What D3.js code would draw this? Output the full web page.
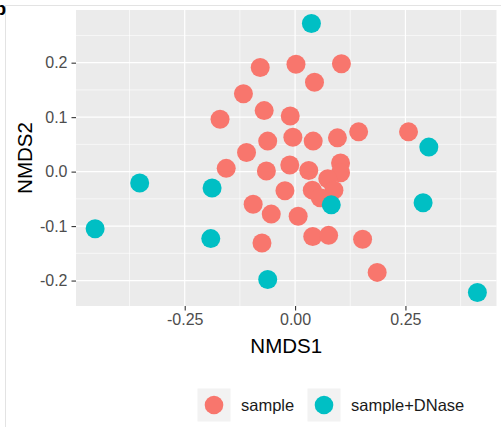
<!DOCTYPE html>
<html>
<head>
<meta charset="utf-8">
<script src="https://cdn.jsdelivr.net/npm/d3@7"></script>
<style>
  html, body { margin: 0; padding: 0; background: #fff; }
  svg { display: block; font-family: "Liberation Sans", Arial, Helvetica, sans-serif; }
</style>
</head>
<body>
<svg id="chart" width="501" height="427"></svg>
<script>
// NMDS ordination scores, one array per coordinate and group
const groups = ["sample", "sample+DNase"];
const groupColors = ["#F8766D", "#00BFC4"];

const sampleX = [-0.079, 0.002, 0.105, 0.044, -0.117, -0.070, -0.170, -0.011, -0.062, -0.110,
                  0.041, -0.005, 0.096, 0.144, 0.257, 0.103, 0.103, -0.012, 0.031, -0.156,
                 -0.065, 0.074, 0.088, 0.039, 0.057, -0.023, -0.095, -0.054, 0.007, -0.075,
                  0.040, 0.076, 0.153, 0.186];
const sampleY = [0.191, 0.197, 0.198, 0.164, 0.143, 0.112, 0.096, 0.102, 0.056, 0.035,
                 0.056, 0.063, 0.062, 0.073, 0.073, 0.016, -0.002, 0.012, 0.002, 0.006,
                 0.001, -0.013, -0.034, -0.034, -0.048, -0.035, -0.060, -0.078, -0.082, -0.131,
                -0.119, -0.117, -0.124, -0.185];

const dnaseX = [0.037, 0.303, -0.352, -0.188, 0.082, -0.453, 0.290, -0.191, -0.062, 0.413];
const dnaseY = [0.272, 0.045, -0.021, -0.030, -0.061, -0.105, -0.057, -0.123, -0.198, -0.222];

const xTicks = [-0.25, 0, 0.25];
const xMinor = [-0.375, -0.125, 0.125, 0.375];
const yTicks = [-0.2, -0.1, 0, 0.1, 0.2];
const yMinor = [-0.15, -0.05, 0.05, 0.15, 0.25];

const xTitle = "NMDS1";
const yTitle = "NMDS2";

// Layout of the plotting panel
const panel = { left: 76, top: 10, right: 496.5, bottom: 306 };

const svg = d3.select("#chart");

// Thin frame around the figure and the panel tag
svg.append("line").attr("x1", 5.5).attr("x2", 501).attr("y1", 5.5).attr("y2", 5.5)
  .attr("stroke", "#e3e3e3").attr("stroke-width", 1);
svg.append("line").attr("x1", 5.5).attr("x2", 5.5).attr("y1", 5.5).attr("y2", 427)
  .attr("stroke", "#e3e3e3").attr("stroke-width", 1);
svg.append("text").attr("x", 6).attr("y", 15).attr("text-anchor", "end")
  .attr("font-size", 19).attr("font-weight", "bold").attr("fill", "#000").text("b");

// Scales: data range expanded by 5% on each side
const allX = sampleX.concat(dnaseX), allY = sampleY.concat(dnaseY);
const xr = d3.extent(allX), yr = d3.extent(allY);
const xPad = (xr[1] - xr[0]) * 0.05, yPad = (yr[1] - yr[0]) * 0.05;
const x = d3.scaleLinear().domain([xr[0] - xPad, xr[1] + xPad]).range([panel.left, panel.right]);
const y = d3.scaleLinear().domain([yr[0] - yPad, yr[1] + yPad]).range([panel.bottom, panel.top]);

// Panel background
svg.append("rect")
  .attr("x", panel.left).attr("y", panel.top)
  .attr("width", panel.right - panel.left).attr("height", panel.bottom - panel.top)
  .attr("fill", "#EBEBEB");

const grid = svg.append("g");
grid.selectAll("line.xminor").data(xMinor).join("line")
  .attr("x1", d => x(d)).attr("x2", d => x(d))
  .attr("y1", panel.top).attr("y2", panel.bottom)
  .attr("stroke", "#fff").attr("stroke-width", 0.6);
grid.selectAll("line.yminor").data(yMinor).join("line")
  .attr("y1", d => y(d)).attr("y2", d => y(d))
  .attr("x1", panel.left).attr("x2", panel.right)
  .attr("stroke", "#fff").attr("stroke-width", 0.6);
grid.selectAll("line.xmajor").data(xTicks).join("line")
  .attr("x1", d => x(d)).attr("x2", d => x(d))
  .attr("y1", panel.top).attr("y2", panel.bottom)
  .attr("stroke", "#fff").attr("stroke-width", 1.2);
grid.selectAll("line.ymajor").data(yTicks).join("line")
  .attr("y1", d => y(d)).attr("y2", d => y(d))
  .attr("x1", panel.left).attr("x2", panel.right)
  .attr("stroke", "#fff").attr("stroke-width", 1.2);

// Axes
const fmtX = d3.format(".2f"), fmtY = d3.format(".1f");
const xAxis = svg.append("g").attr("transform", `translate(0,${panel.bottom})`)
  .call(d3.axisBottom(x).tickValues(xTicks).tickSize(4.5).tickPadding(3)
    .tickFormat(d => fmtX(d).replace("−", "-")));
const yAxis = svg.append("g").attr("transform", `translate(${panel.left},0)`)
  .call(d3.axisLeft(y).tickValues(yTicks).tickSize(4.5).tickPadding(4)
    .tickFormat(d => fmtY(d).replace("−", "-")));
[xAxis, yAxis].forEach(a => {
  a.select(".domain").remove();
  a.selectAll(".tick line").attr("stroke", "#333").attr("stroke-width", 1.1);
  a.selectAll(".tick text").attr("fill", "#4D4D4D").attr("font-size", 16)
    .attr("font-family", "'Liberation Sans', Arial, sans-serif");
});

svg.append("text")
  .attr("x", (panel.left + panel.right) / 2).attr("y", 353)
  .attr("text-anchor", "middle").attr("font-size", 20.5).attr("fill", "#000")
  .text(xTitle);
svg.append("text")
  .attr("transform", `translate(32,${(panel.top + panel.bottom) / 2}) rotate(-90)`)
  .attr("text-anchor", "middle").attr("font-size", 20.5).attr("fill", "#000")
  .text(yTitle);

// Points: sample first, DNase-treated on top
const pts = svg.append("g");
const series = [
  { xs: sampleX, ys: sampleY, color: groupColors[0] },
  { xs: dnaseX, ys: dnaseY, color: groupColors[1] }
];
series.forEach(s => {
  pts.append("g").selectAll("circle")
    .data(s.xs.map((v, i) => [v, s.ys[i]]))
    .join("circle")
    .attr("cx", d => x(d[0])).attr("cy", d => y(d[1]))
    .attr("r", 9.5).attr("fill", s.color);
});

// Legend at the bottom
const legend = svg.append("g");
const keyX = [197.5, 307.5];
groups.forEach((g, i) => {
  const k = legend.append("g").attr("transform", `translate(${keyX[i]},388.5)`);
  k.append("rect").attr("width", 33).attr("height", 33).attr("fill", "#F2F2F2");
  k.append("circle").attr("cx", 16.5).attr("cy", 16.5).attr("r", 9.3).attr("fill", groupColors[i]);
  k.append("text").attr("x", 43.5).attr("y", 22.5).attr("font-size", 16.5)
    .attr("fill", "#1A1A1A").text(g);
});
</script>
</body>
</html>
